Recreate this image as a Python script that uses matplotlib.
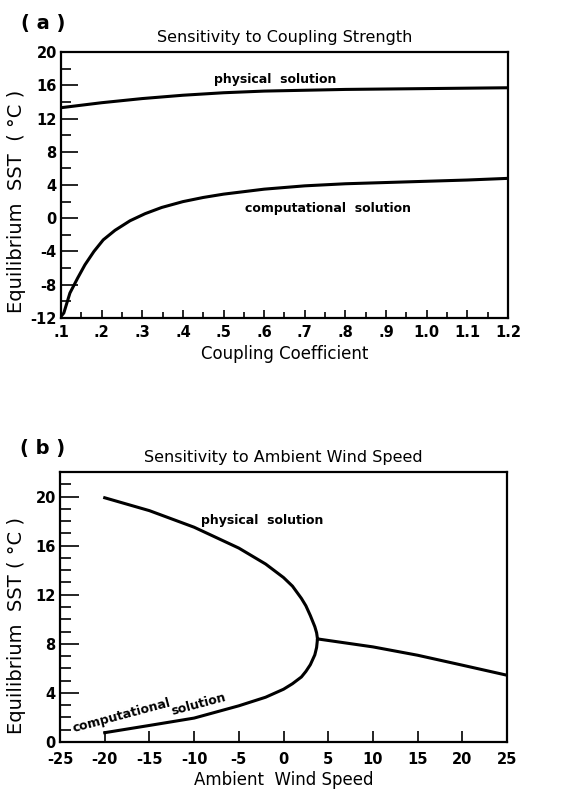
import matplotlib
matplotlib.use('Agg')
import matplotlib.pyplot as plt
from matplotlib.ticker import MultipleLocator

plt.rcParams['font.family'] = ['DejaVu Sans']
plt.rcParams['axes.unicode_minus'] = False

# (a) coupling strength
coef_phys = [0.1, 0.15, 0.2, 0.3, 0.4, 0.5, 0.6, 0.7, 0.8, 0.9, 1.0, 1.1, 1.2]
sst_phys = [13.3, 13.6, 13.9, 14.4, 14.8, 15.1, 15.3, 15.4, 15.5, 15.55, 15.6, 15.65, 15.7]
coef_comp = [0.102, 0.107, 0.122, 0.141, 0.159, 0.181, 0.204, 0.233, 0.27, 0.307,
             0.348, 0.4, 0.45, 0.5, 0.6, 0.7, 0.8, 0.9, 1.0, 1.1, 1.2]
sst_comp = [-11.7, -11.4, -9.0, -7.2, -5.6, -4.0, -2.6, -1.45, -0.3, 0.55,
            1.3, 2.0, 2.5, 2.9, 3.5, 3.9, 4.15, 4.3, 4.45, 4.6, 4.8]
a_xticks = [0.1, 0.2, 0.3, 0.4, 0.5, 0.6, 0.7, 0.8, 0.9, 1.0, 1.1, 1.2]
a_xlabels = ['.1', '.2', '.3', '.4', '.5', '.6', '.7', '.8', '.9', '1.0', '1.1', '1.2']
a_yticks = [-12, -8, -4, 0, 4, 8, 12, 16, 20]

# (b) ambient wind speed
wind_upper = [-20, -15, -10, -5, -2, 0, 1, 2, 2.5, 3, 3.5, 3.7, 3.8]
sst_upper = [19.9, 18.85, 17.5, 15.8, 14.5, 13.4, 12.7, 11.7, 11.1, 10.3, 9.4, 8.9, 8.4]
wind_lower = [3.8, 3.7, 3.5, 3.0, 2.5, 2.0, 1.0, 0, -2, -5, -10, -15, -20]
sst_lower = [8.4, 7.7, 7.1, 6.3, 5.75, 5.3, 4.75, 4.3, 3.65, 2.95, 1.95, 1.35, 0.76]
wind_right = [3.8, 10, 15, 20, 25]
sst_right = [8.4, 7.75, 7.07, 6.26, 5.44]
b_xticks = [-25, -20, -15, -10, -5, 0, 5, 10, 15, 20, 25]
b_xlabels = ['-25', '-20', '-15', '-10', '-5', '0', '5', '10', '15', '20', '25']
b_yticks = [0, 4, 8, 12, 16, 20]

fig = plt.figure(figsize=(5.63, 7.93), dpi=100)


def style(ax):
    for s in ax.spines.values():
        s.set_linewidth(1.6)
    ax.tick_params(which='both', direction='in', top=False, right=False,
                   width=1.2, labelsize=10.5)
    for lab in ax.get_xticklabels() + ax.get_yticklabels():
        lab.set_fontweight('bold')


ax1 = fig.add_axes([0.1083, 0.599, 0.794, 0.3354])
ax1.plot(coef_phys, sst_phys, color='black', lw=2.2, solid_joinstyle='round')
ax1.plot(coef_comp, sst_comp, color='black', lw=2.2, solid_joinstyle='round')
ax1.set_xlim(0.1, 1.2)
ax1.set_ylim(-12, 20)
ax1.set_xticks(a_xticks)
ax1.set_xticklabels(a_xlabels)
ax1.xaxis.set_minor_locator(MultipleLocator(0.05))
ax1.set_yticks(a_yticks)
ax1.yaxis.set_minor_locator(MultipleLocator(2))
style(ax1)
ax1.tick_params(axis='y', which='major', length=12, pad=3)
ax1.tick_params(axis='y', which='minor', length=7)
ax1.tick_params(axis='x', which='major', length=6, pad=5)
ax1.tick_params(axis='x', which='minor', length=4)
ax1.set_title('Sensitivity to Coupling Strength', fontsize=11.5, pad=7)
ax1.set_xlabel('Coupling Coefficient', fontsize=12, labelpad=4)
ax1.set_ylabel('Equilibrium  SST  ( \u00b0C )', fontsize=14)
ax1.yaxis.set_label_coords(-0.079, 0.44)
ax1.text(0.627, 16.3, 'physical  solution', fontsize=9, fontweight='bold', ha='center')
ax1.text(0.757, 0.7, 'computational  solution', fontsize=9, fontweight='bold', ha='center')
fig.text(0.038, 0.963, '( a )', fontsize=14, fontweight='bold')

ax2 = fig.add_axes([0.1066, 0.0643, 0.794, 0.3405])
ax2.plot(wind_upper, sst_upper, color='black', lw=2.2, solid_joinstyle='round')
ax2.plot(wind_lower, sst_lower, color='black', lw=2.2, solid_joinstyle='round')
ax2.plot(wind_right, sst_right, color='black', lw=2.2, solid_joinstyle='round')
ax2.set_xlim(-25, 25)
ax2.set_ylim(0, 22)
ax2.set_xticks(b_xticks)
ax2.set_xticklabels(b_xlabels)
ax2.set_yticks(b_yticks)
ax2.yaxis.set_minor_locator(MultipleLocator(1))
style(ax2)
ax2.tick_params(axis='y', which='major', length=14, pad=3)
ax2.tick_params(axis='y', which='minor', length=8)
ax2.tick_params(axis='x', which='major', length=8, pad=7)
ax2.set_title('Sensitivity to Ambient Wind Speed', fontsize=11.5, pad=7)
ax2.set_xlabel('Ambient  Wind Speed', fontsize=12, labelpad=3)
ax2.set_ylabel('Equilibrium  SST ( \u00b0C )', fontsize=14)
ax2.yaxis.set_label_coords(-0.077, 0.433)
ax2.text(-2.4, 17.8, 'physical  solution', fontsize=9, fontweight='bold', ha='center')
ax2.text(-23.5, 0.8, 'computational', fontsize=9, fontweight='bold', rotation=15,
         rotation_mode='anchor')
ax2.text(-12.4, 2.2, 'solution', fontsize=9, fontweight='bold', rotation=15,
         rotation_mode='anchor')
fig.text(0.035, 0.428, '( b )', fontsize=14, fontweight='bold')

fig.savefig('out.png', dpi=100)
